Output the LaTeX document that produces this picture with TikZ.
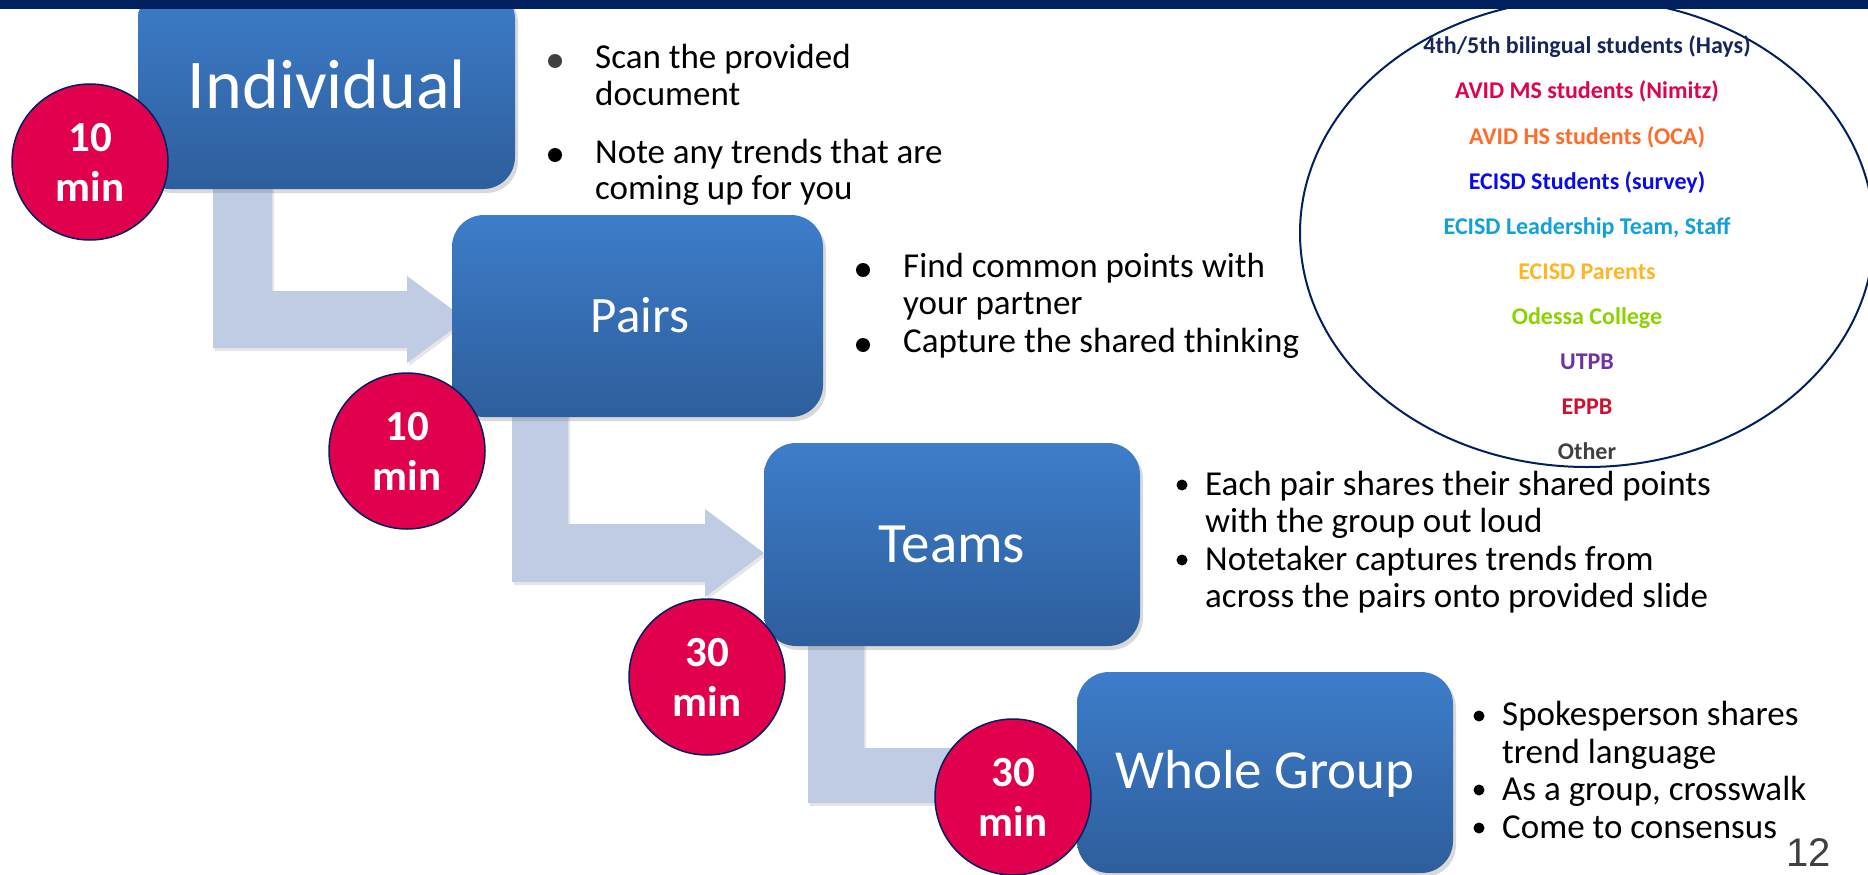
\documentclass[tikz,border=0pt]{standalone}
\usepackage{fontspec}
\setmainfont{Carlito}
\newfontfamily\arialf{Liberation Sans}
\usetikzlibrary{shapes.geometric,shadows}
\definecolor{navy}{RGB}{0,32,96}
\definecolor{boxtop}{RGB}{61,125,202}
\definecolor{boxbot}{RGB}{46,94,156}
\definecolor{arrowc}{RGB}{191,204,227}
\definecolor{crim}{RGB}{224,0,77}
\definecolor{gnavy}{RGB}{22,38,92}
\definecolor{gcrim}{RGB}{222,4,76}
\definecolor{gorange}{RGB}{255,108,42}
\definecolor{gblue}{RGB}{10,10,240}
\definecolor{glblue}{RGB}{18,160,220}
\definecolor{gamber}{RGB}{255,182,34}
\definecolor{glime}{RGB}{140,210,0}
\definecolor{gpurple}{RGB}{112,48,160}
\definecolor{gred}{RGB}{204,16,48}
\definecolor{ggray}{RGB}{64,64,64}
\begin{document}
\begin{tikzpicture}[x=1pt,y=-1pt,
  stepbox/.style={rectangle, rounded corners=32pt, inner sep=0pt, top color=boxtop, bottom color=boxbot, draw=none,
    drop shadow={shadow xshift=3pt, shadow yshift=-4pt, opacity=0.3}},
  boxtxt/.style={anchor=base, inner sep=0pt, text=white},
  blockarrow/.style={fill=arrowc, draw=none, drop shadow={shadow xshift=2pt, shadow yshift=-3pt, opacity=0.2}},
  timecirc/.style={circle, minimum size=156pt, inner sep=0pt, fill=crim, draw=navy, line width=1.5pt, text=white,
    align=center, font=\bfseries\fontsize{43}{50}\selectfont},
  bt/.style={anchor=base west, inner sep=0pt, font=\fontsize{35}{42}\selectfont},
  bigdot/.style={circle, fill=black, inner sep=0pt, minimum size=14pt},
  smalldot/.style={circle, fill=black, inner sep=0pt, minimum size=11pt},
  et/.style={anchor=base, inner sep=0pt, font=\bfseries\fontsize{24}{29}\selectfont}]
\useasboundingbox (0,0) rectangle (1868,875);

% block arrows
\path[blockarrow] (213,150) -- (272,150) -- (272,291) -- (407,291) -- (407,276) -- (466,319.5) -- (407,363) -- (407,348) -- (213,348) -- cycle;
\path[blockarrow] (512,400) -- (568,400) -- (568,524) -- (705,524) -- (705,509) -- (764,553) -- (705,597) -- (705,582) -- (512,582) -- cycle;
\path[blockarrow] (808,630) -- (864,630) -- (864,748) -- (1018,748) -- (1018,732) -- (1077,775.5) -- (1018,819) -- (1018,803) -- (808,803) -- cycle;

% boxes
\node[stepbox, minimum width=377pt, minimum height=202pt] (ind) at (326.5,88) {};
\node[stepbox, minimum width=371pt, minimum height=202pt] (pairs) at (637.5,316) {};
\node[stepbox, minimum width=376pt, minimum height=203pt] (teams) at (952,544.5) {};
\node[stepbox, minimum width=376pt, minimum height=201pt] (whole) at (1265,772.5) {};

\node[boxtxt, font=\fontsize{70}{84}\selectfont] (indt) at (327,108) {Individual};
\node[boxtxt, font=\fontsize{51}{61}\selectfont] (pairst) at (640,332) {Pairs};
\node[boxtxt, font=\fontsize{57}{68}\selectfont] (teamst) at (952,562) {Teams};
\node[boxtxt, font=\fontsize{55}{66}\selectfont] (wholet) at (1265,788) {Whole Group};

% time circles
\node[timecirc] (t1) at (90,162) {10\\min};
\node[timecirc] (t2) at (407,451) {10\\min};
\node[timecirc] (t3) at (707,677) {30\\min};
\node[timecirc] (t4) at (1013,797) {30\\min};

% Individual bullets
\node[bigdot, fill=ggray] (d11) at (555,61) {};
\node[bt] (i1) at (595,68) {Scan the provided};
\node[bt] (i2) at (595,105) {document};
\node[bigdot] (d12) at (555,155) {};
\node[bt] (i3) at (595,163) {Note any trends that are};
\node[bt] (i4) at (595,199) {coming up for you};

% Pairs bullets
\node[bigdot] (d21) at (863,270) {};
\node[bt] (p1) at (903,277) {Find common points with};
\node[bt] (p2) at (903,314) {your partner};
\node[bigdot] (d22) at (863,345) {};
\node[bt] (p3) at (903,352) {Capture the shared thinking};

% Teams bullets
\node[smalldot] (d31) at (1182,485) {};
\node[bt] (s1) at (1205,495) {Each pair shares their shared points};
\node[bt] (s2) at (1205,532) {with the group out loud};
\node[smalldot] (d32) at (1182,560) {};
\node[bt] (s3) at (1205,570) {Notetaker captures trends from};
\node[bt] (s4) at (1205,607) {across the pairs onto provided slide};

% Whole group bullets
\node[smalldot] (d41) at (1479,716) {};
\node[bt] (w1) at (1502,725) {Spokesperson shares};
\node[bt] (w2) at (1502,763) {trend language};
\node[smalldot] (d42) at (1479,790) {};
\node[bt] (w3) at (1502,800) {As a group, crosswalk};
\node[smalldot] (d43) at (1479,828) {};
\node[bt] (w4) at (1502,838) {Come to consensus};

% stakeholder ellipse
\node[draw=navy, line width=2pt, ellipse, minimum width=574pt, minimum height=468pt, inner sep=0pt] (grp) at (1587,233) {};
\node[et, text=gnavy] (g1) at (1587,54) {4th/5th bilingual students (Hays)};
\node[et, text=gcrim] (g2) at (1587,99) {AVID MS students (Nimitz)};
\node[et, text=gorange] (g3) at (1587,144) {AVID HS students (OCA)};
\node[et, text=gblue] (g4) at (1587,189) {ECISD Students (survey)};
\node[et, text=glblue] (g5) at (1587,234) {ECISD Leadership Team, Staff};
\node[et, text=gamber] (g6) at (1587,279) {ECISD Parents};
\node[et, text=glime] (g7) at (1587,324) {Odessa College};
\node[et, text=gpurple] (g8) at (1587,369) {UTPB};
\node[et, text=gred] (g9) at (1587,414) {EPPB};
\node[et, text=ggray] (g10) at (1587,459) {Other};

% page number
\node[anchor=base east, inner sep=0pt, font=\arialf\fontsize{40}{48}\selectfont, text=ggray] (pg) at (1831,866) {12};

% top bar
\fill[navy] (0,0) rectangle (1868,9);
\end{tikzpicture}
\end{document}
